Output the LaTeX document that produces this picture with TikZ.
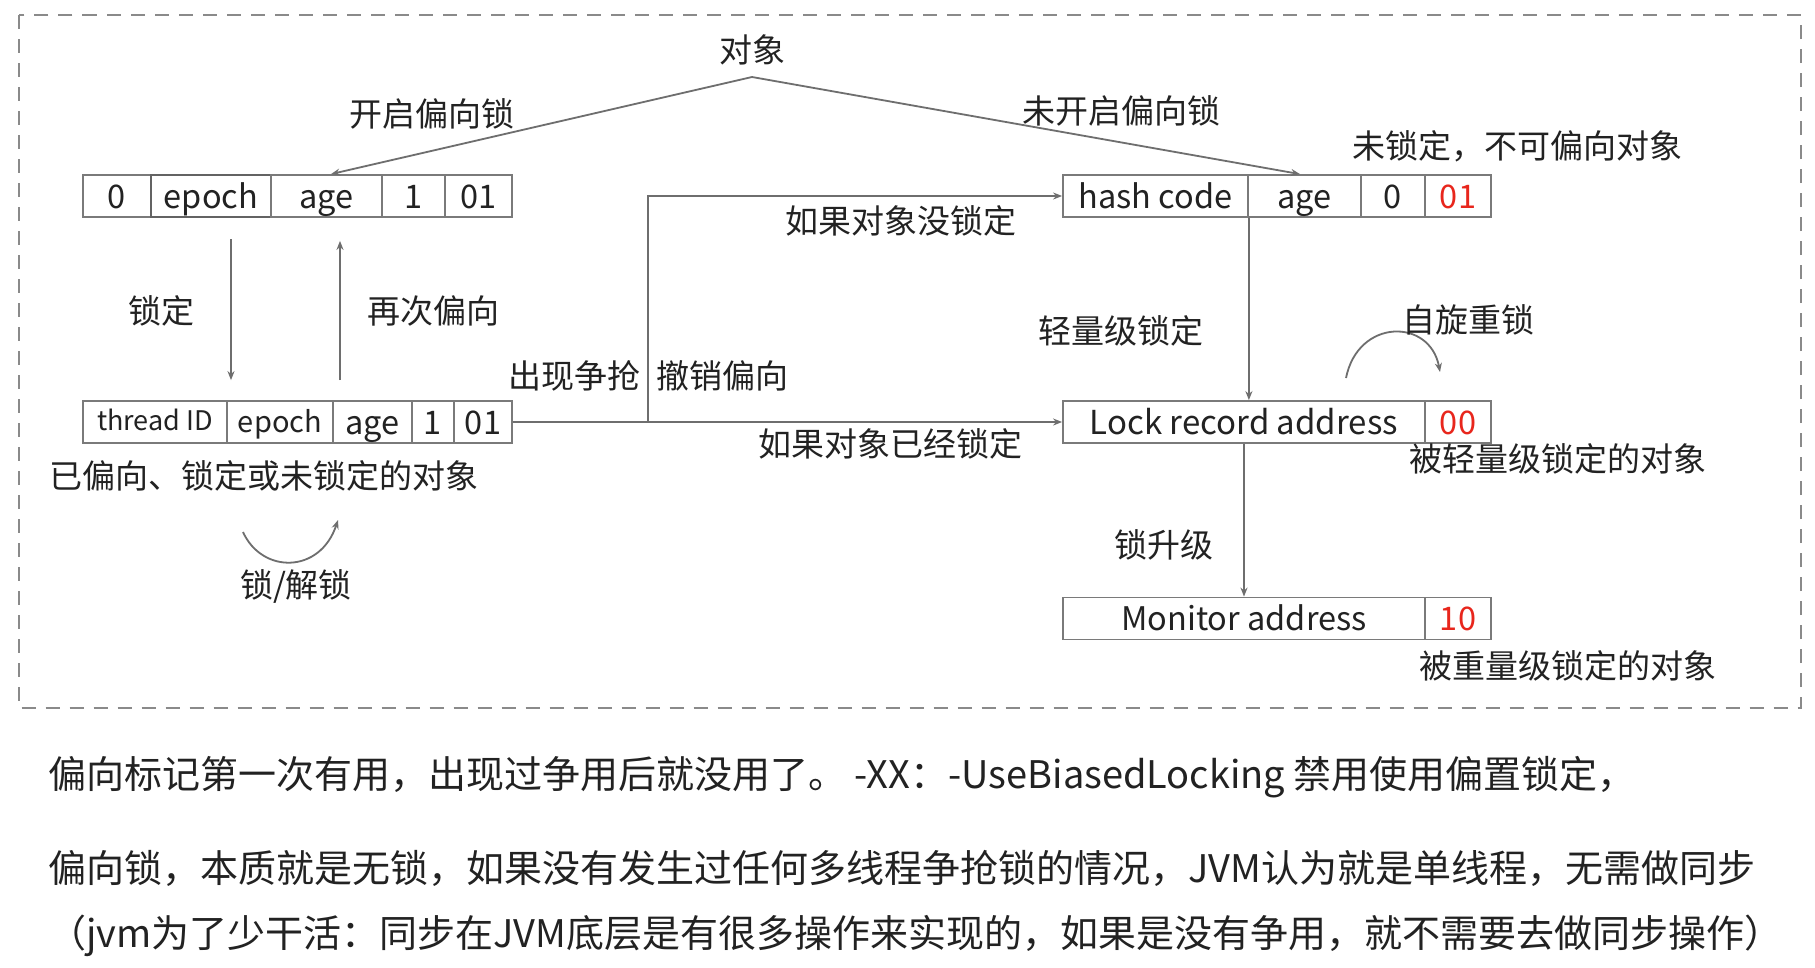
\documentclass[tikz,border=0pt]{standalone}
\usepackage{fontspec}
\setmainfont{Noto Sans CJK SC}
\usetikzlibrary{arrows.meta,calc}
\definecolor{linegray}{HTML}{6E6E6E}
\definecolor{boxgray}{HTML}{7A7A7A}
\definecolor{framegray}{HTML}{8A8A8A}
\definecolor{txt}{HTML}{222222}
\definecolor{redtxt}{HTML}{E8261C}
\newcommand\fsz[1]{\fontsize{#1}{#1}\selectfont}
\tikzset{
  cell/.style={draw=boxgray, line width=1.8pt, minimum height=42pt, inner sep=0pt, text=txt, font=\fsz{32.5}, text height=28pt, text depth=4pt},
  lbl/.style={inner sep=0pt, text=txt, font=\fsz{33}},
  para/.style={inner sep=0pt, text=txt, font=\fsz{38}, anchor=west},
  arr/.style={draw=linegray, line width=1.8pt, -{Stealth[length=9pt,width=7pt]}},
  conn/.style={draw=linegray, line width=1.8pt},
  frame/.style={draw=framegray, line width=2pt, dash pattern=on 14pt off 10pt}
}
\begin{document}
\begin{tikzpicture}[x=1pt,y=-1pt]
\useasboundingbox (0,0) rectangle (1815,967);
\fill[white] (0,0) rectangle (1815,967);
\draw[frame] (18.5,15) rectangle (1800.5,708);

% top object
\node[lbl] (obj) at (752,50) {对象};
\coordinate (apex) at (752,77);

% box 1
\node[cell, minimum width=68pt] (b1a) at (117,196) {0};
\node[cell, minimum width=120pt, line width=2.8pt, draw=linegray!90!black] (b1b) at (211,196) {epoch};
\node[cell, minimum width=111pt] (b1c) at (326.5,196) {age};
\node[cell, minimum width=63pt] (b1d) at (413.5,196) {1};
\node[cell, minimum width=67pt] (b1e) at (478.5,196) {01};

% box 2
\node[cell, minimum width=144pt, font=\fsz{27}, text height=22pt, text depth=5pt] (b2a) at (155,422) {thread ID};
\node[cell, minimum width=106pt, font=\fsz{29}, text height=25pt, text depth=5pt] (b2b) at (280,422) {epoch};
\node[cell, minimum width=79pt] (b2c) at (372.5,422) {age};
\node[cell, minimum width=42pt] (b2d) at (433,422) {1};
\node[cell, minimum width=58pt] (b2e) at (483,422) {01};

% hash box
\node[cell, minimum width=185pt] (h1) at (1155.5,196) {hash code};
\node[cell, minimum width=113pt] (h2) at (1304.5,196) {age};
\node[cell, minimum width=64pt] (h3) at (1393,196) {0};
\node[cell, minimum width=66pt, text=redtxt] (h4) at (1458,196) {01};

% lock record box
\node[cell, minimum width=362pt, font=\fsz{33}] (l1) at (1244,422) {Lock record address};
\node[cell, minimum width=66pt, text=redtxt] (l2) at (1458,422) {00};

% monitor box
\node[cell, minimum width=362pt] (m1) at (1244,618.5) {Monitor address};
\node[cell, minimum width=66pt, text=redtxt] (m2) at (1458,618.5) {10};

% connectors
\draw[arr] (apex) -- ($(b1c.north)+(4.5,0)$);
\draw[arr] (apex) -- ($(h2.north)+(-4.5,0)$);
\draw[arr] ($(b1b.south)+(20,21)$) -- ($(b2b.north)+(-49,-20)$);
\draw[arr] ($(b2c.north)+(-32.5,-20)$) -- ($(b1c.south)+(13.5,23)$);
\draw[arr] (b2e.east) -- (l1.west);
\coordinate (br) at (648,422);
\draw[arr] (br) |- (h1.west);
\draw[arr] (h1.south east) -- (h1.south east |- l1.north);
\draw[arr] (l1.south) -- (m1.north);

% curved arrows
\draw[arr] (243,532) .. controls (262,574) and (320,574) .. (338,520);
\draw[arr] (1346,378) .. controls (1358,318) and (1430,318) .. (1440,372);

% labels
\node[lbl] (t1) at (432,114) {开启偏向锁};
\node[lbl] (t2) at (1121,111) {未开启偏向锁};
\node[lbl] (t3) at (1517,146) {未锁定，不可偏向对象};
\node[lbl] (t4) at (161,311) {锁定};
\node[lbl] (t5) at (433,311) {再次偏向};
\node[lbl] (t6) at (264,476) {已偏向、锁定或未锁定的对象};
\node[lbl] (t7) at (296,586) {锁/解锁};
\node[lbl] (t8) at (901,221) {如果对象没锁定};
\node[lbl] (t9) at (574,376) {出现争抢};
\node[lbl] (t10) at (722,376) {撤销偏向};
\node[lbl] (t11) at (890,444) {如果对象已经锁定};
\node[lbl] (t12) at (1121,331) {轻量级锁定};
\node[lbl] (t13) at (1468,320) {自旋重锁};
\node[lbl] (t14) at (1558,459) {被轻量级锁定的对象};
\node[lbl] (t15) at (1164,545) {锁升级};
\node[lbl] (t16) at (1568,666) {被重量级锁定的对象};

% bottom paragraph
\node[para] (p1) at (48,777) {偏向标记第一次有用，出现过争用后就没用了。 -XX：-UseBiasedLocking 禁用使用偏置锁定，};
\node[para] (p2) at (48,868) {偏向锁，本质就是无锁，如果没有发生过任何多线程争抢锁的情况，JVM认为就是单线程，无需做同步};
\node[para] (p3) at (48,936) {（jvm为了少干活：同步在JVM底层是有很多操作来实现的，如果是没有争用，就不需要去做同步操作）};
\end{tikzpicture}
\end{document}
